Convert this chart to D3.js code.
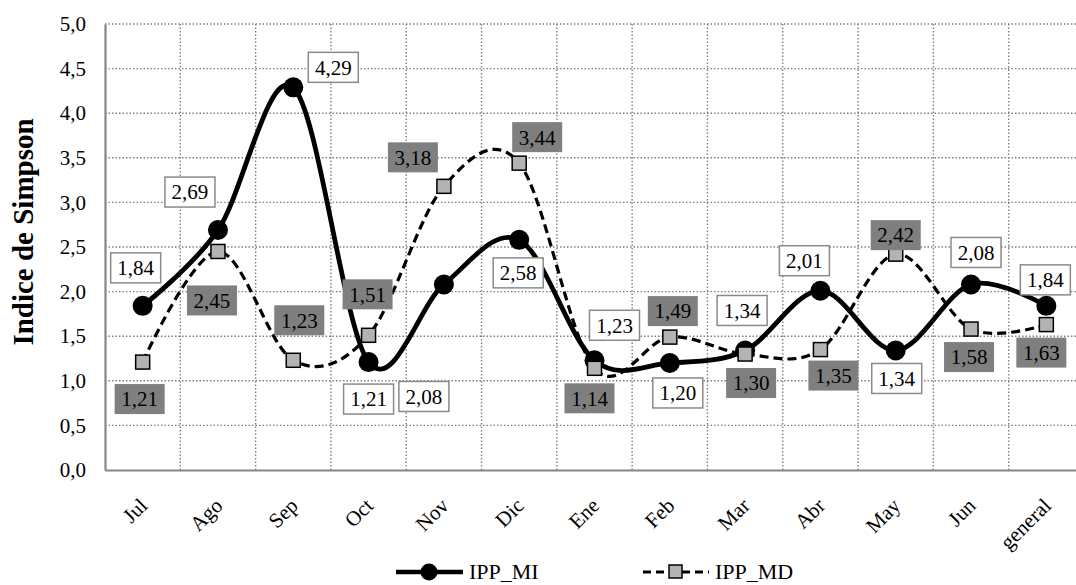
<!DOCTYPE html>
<html>
<head>
<meta charset="utf-8">
<script src="https://cdn.jsdelivr.net/npm/d3@7"></script>
<style>
  body { margin: 0; background: #fff; }
  text { font-family: "Liberation Serif", "Times New Roman", serif; }
</style>
</head>
<body>
<div id="chart"></div>
<script>
// data
const months = ["Jul", "Ago", "Sep", "Oct", "Nov", "Dic", "Ene", "Feb", "Mar", "Abr", "May", "Jun", "general"];
const ippMI = [1.84, 2.69, 4.29, 1.21, 2.08, 2.58, 1.23, 1.20, 1.34, 2.01, 1.34, 2.08, 1.84];
const ippMD = [1.21, 2.45, 1.23, 1.51, 3.18, 3.44, 1.14, 1.49, 1.30, 1.35, 2.42, 1.58, 1.63];
const yTicks = [0, 0.5, 1, 1.5, 2, 2.5, 3, 3.5, 4, 4.5, 5];

// where each data label sits relative to its point (pixels)
const miLabelDx = [-7, -28, 40, 0, -20, -1, 20, 8, -3, -16, 1, 5, -1];
const miLabelDy = [-38, -38, -20, 37, 112, 33, -35, 30, -40, -30, 28, -32, -26];
const mdLabelDx = [-3, -6, 6, -1, -31, 18, -5, 3, 6, 13, 0, -2, -5];
const mdLabelDy = [37, 49, -40, -41, -29, -26, 30, -26, 29, 26, -19, 28, 28];

var W = 1076, H = 585;
var margin = { top: 24, left: 105, bottom: 115 };
var plotH = H - margin.top - margin.bottom;

var svg = d3.select("#chart").append("svg")
    .attr("width", W)
    .attr("height", H);

var x = d3.scaleBand()
    .domain(months)
    .range([margin.left, 1084]);

var y = d3.scaleLinear()
    .domain([0, 5])
    .range([margin.top + plotH, margin.top]);

var comma = function (fmt) {
    var f = d3.format(fmt);
    return function (v) { return f(v).replace(".", ","); };
};

// horizontal grid
svg.append("g")
    .selectAll("line")
    .data(yTicks.filter(function (d) { return d > 0; }))
    .enter().append("line")
    .attr("x1", margin.left).attr("x2", W)
    .attr("y1", function (d) { return y(d); })
    .attr("y2", function (d) { return y(d); })
    .attr("stroke", "#808080")
    .attr("stroke-width", 1.4)
    .attr("stroke-dasharray", "1.5,2");

// vertical grid between categories
svg.append("g")
    .selectAll("line")
    .data(months.slice(1))
    .enter().append("line")
    .attr("x1", function (d) { return x(d); })
    .attr("x2", function (d) { return x(d); })
    .attr("y1", y(5)).attr("y2", y(0))
    .attr("stroke", "#808080")
    .attr("stroke-width", 1.4)
    .attr("stroke-dasharray", "1.5,2");

// y axis
var yAxis = svg.append("g")
    .attr("transform", "translate(" + margin.left + ",0)")
    .call(d3.axisLeft(y).tickValues(yTicks).tickFormat(comma(".1f")).tickSize(0).tickPadding(19));
yAxis.select(".domain").attr("stroke", "#868686").attr("stroke-width", 2.2);
yAxis.selectAll("text").attr("font-size", 21).attr("fill", "#000")
    .style("font-family", "Liberation Serif");

// x axis
var xAxis = svg.append("g")
    .attr("transform", "translate(0," + y(0) + ")")
    .call(d3.axisBottom(x).tickSize(0).tickFormat(""));
xAxis.select(".domain").attr("stroke", "#868686").attr("stroke-width", 2.2);

svg.append("g")
    .selectAll("text")
    .data(months)
    .enter().append("text")
    .attr("transform", function (d) {
        return "translate(" + (x(d) + x.bandwidth() / 2 + 6) + "," + (y(0) + 37) + ") rotate(-45)";
    })
    .attr("text-anchor", "end")
    .attr("font-size", 21)
    .text(function (d) { return d; });

// y title
svg.append("text")
    .attr("transform", "translate(33,232) rotate(-90)")
    .attr("text-anchor", "middle")
    .attr("font-size", 29)
    .attr("font-weight", "bold")
    .text("Indice de Simpson");

var cx = function (i) { return x(months[i]) + x.bandwidth() / 2; };
var curve = d3.curveCardinal.tension(0);

var line = d3.line()
    .x(function (d, i) { return cx(i); })
    .y(function (d) { return y(d); })
    .curve(curve);

// IPP_MI series
svg.append("path")
    .datum(ippMI)
    .attr("d", line)
    .attr("fill", "none")
    .attr("stroke", "#000")
    .attr("stroke-width", 4.8);

svg.append("g")
    .selectAll("circle")
    .data(ippMI)
    .enter().append("circle")
    .attr("cx", function (d, i) { return cx(i); })
    .attr("cy", function (d) { return y(d); })
    .attr("r", 10)
    .attr("fill", "#000");

// IPP_MD series
svg.append("path")
    .datum(ippMD)
    .attr("d", line)
    .attr("fill", "none")
    .attr("stroke", "#000")
    .attr("stroke-width", 3.2)
    .attr("stroke-dasharray", "9,5");

svg.append("g")
    .selectAll("rect")
    .data(ippMD)
    .enter().append("rect")
    .attr("x", function (d, i) { return cx(i) - 7; })
    .attr("y", function (d) { return y(d) - 7; })
    .attr("width", 14)
    .attr("height", 14)
    .attr("fill", "#b3b3b3")
    .attr("stroke", "#000")
    .attr("stroke-width", 1.5);

// data labels
var fmt2 = comma(".2f");
function drawLabels(values, dx, dy, fill, stroke) {
    var g = svg.append("g")
        .selectAll("g")
        .data(values)
        .enter().append("g")
        .attr("transform", function (d, i) {
            return "translate(" + (cx(i) + dx[i]) + "," + (y(d) + dy[i]) + ")";
        });
    g.append("rect")
        .attr("x", -25).attr("y", -15)
        .attr("width", 50).attr("height", 30)
        .attr("fill", fill)
        .attr("stroke", stroke)
        .attr("stroke-width", stroke == "none" ? 0 : 1.5);
    g.append("text")
        .attr("text-anchor", "middle")
        .attr("dy", "0.35em")
        .attr("font-size", 21)
        .text(function (d) { return fmt2(d); });
}
drawLabels(ippMI, miLabelDx, miLabelDy, "#fff", "#8a8a8a");
drawLabels(ippMD, mdLabelDx, mdLabelDy, "#7f7f7f", "none");

// legend
var legY = 572;
var leg = svg.append("g");
leg.append("line")
    .attr("x1", 396).attr("x2", 463).attr("y1", legY).attr("y2", legY)
    .attr("stroke", "#000").attr("stroke-width", 4.5);
leg.append("circle")
    .attr("cx", 429).attr("cy", legY).attr("r", 8.5).attr("fill", "#000");
leg.append("text")
    .attr("x", 469).attr("y", 579)
    .attr("font-size", 22)
    .text("IPP_MI");

leg.append("line")
    .attr("x1", 643).attr("x2", 709).attr("y1", legY).attr("y2", legY)
    .attr("stroke", "#000").attr("stroke-width", 3)
    .attr("stroke-dasharray", "8,5");
leg.append("rect")
    .attr("x", 669).attr("y", legY - 7).attr("width", 13).attr("height", 13)
    .attr("fill", "#b3b3b3").attr("stroke", "#000").attr("stroke-width", 1.5);
leg.append("text")
    .attr("x", 715).attr("y", 579)
    .attr("font-size", 22)
    .text("IPP_MD");
</script>
</body>
</html>
